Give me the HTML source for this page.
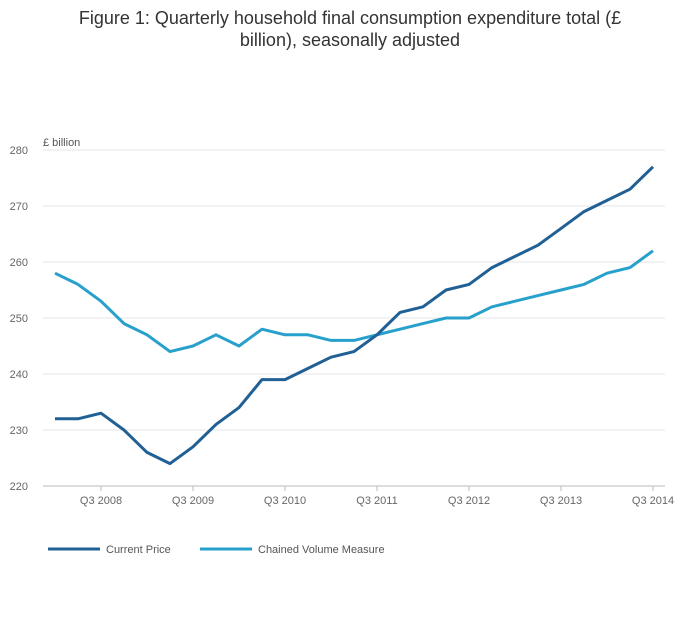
<!DOCTYPE html>
<html><head><meta charset="utf-8">
<style>
body{margin:0;background:#fff;font-family:"Liberation Sans","DejaVu Sans",sans-serif;}
svg text{font-family:"Liberation Sans","DejaVu Sans",sans-serif;}
</style></head>
<body>
<svg width="700" height="635" viewBox="0 0 700 635">
<text x="350" y="24" text-anchor="middle" font-size="18" fill="#333">Figure 1: Quarterly household final consumption expenditure total (£</text>
<text x="350" y="46" text-anchor="middle" font-size="18" fill="#333">billion), seasonally adjusted</text>
<text x="43" y="146" font-size="11" fill="#555">£ billion</text>
<g id="grid"></g>
<g id="xaxis"></g>
<g id="series"></g>
<g>
<line x1="48" y1="549" x2="100" y2="549" stroke="#206095" stroke-width="3"/>
<text x="106" y="553" font-size="11" fill="#555">Current Price</text>
<line x1="200" y1="549" x2="252" y2="549" stroke="#27a0cc" stroke-width="3"/>
<text x="258" y="553" font-size="11" fill="#555">Chained Volume Measure</text>
</g>
</svg>
<script>
const quarters = ["Q1 2008","Q2 2008","Q3 2008","Q4 2008","Q1 2009","Q2 2009","Q3 2009","Q4 2009","Q1 2010","Q2 2010","Q3 2010","Q4 2010","Q1 2011","Q2 2011","Q3 2011","Q4 2011","Q1 2012","Q2 2012","Q3 2012","Q4 2012","Q1 2013","Q2 2013","Q3 2013","Q4 2013","Q1 2014","Q2 2014","Q3 2014"];
const currentPrice = [232,232,233,230,226,224,227,231,234,239,239,241,243,244,247,251,252,255,256,259,261,263,266,269,271,273,277];
const chainedVolume = [258,256,253,249,247,244,245,247,245,248,247,247,246,246,247,248,249,250,250,252,253,254,255,256,258,259,262];
const yTicks = [220,230,240,250,260,270,280];
const xTickLabels = ["Q3 2008","Q3 2009","Q3 2010","Q3 2011","Q3 2012","Q3 2013","Q3 2014"];

const NS="http://www.w3.org/2000/svg";
const x0=55, step=23, yBase=486, yMin=220, yPer=5.6;
function xs(i){return x0+i*step;}
function ys(v){return yBase-(v-yMin)*yPer;}
function mk(tag,attrs,parent){const e=document.createElementNS(NS,tag);for(const k in attrs)e.setAttribute(k,attrs[k]);parent.appendChild(e);return e;}

const grid=document.getElementById('grid');
yTicks.forEach(v=>{
  const l=mk('line',{x1:43,x2:665,y1:ys(v),y2:ys(v),stroke:v===yMin?'#bbb':'#e6e6e6','stroke-width':1},grid);
  
  
  const t=mk('text',{x:28,y:ys(v)+4,'font-size':11,fill:'#666','text-anchor':'end'},grid);
  t.textContent=v;
  
  
});
const xa=document.getElementById('xaxis');
xTickLabels.forEach(lab=>{
  const i=quarters.indexOf(lab);
  const tk=mk('line',{x1:xs(i),x2:xs(i),y1:486,y2:491,stroke:'#bbb'},xa);
  
  
  const t=mk('text',{x:xs(i),y:504,'font-size':11,fill:'#666','text-anchor':'middle'},xa);
  t.textContent=lab;
  
  
});
const sg=document.getElementById('series');
function line(vals,color,name){
  const p=mk('polyline',{points:vals.map((v,i)=>xs(i)+','+ys(v)).join(' '),fill:'none',stroke:color,'stroke-width':3,'stroke-linejoin':'round'},sg);
  
  
}
line(chainedVolume,'#27a0cc','series-chained-volume-line');
line(currentPrice,'#206095','series-current-price-line');
</script>
</body></html>
